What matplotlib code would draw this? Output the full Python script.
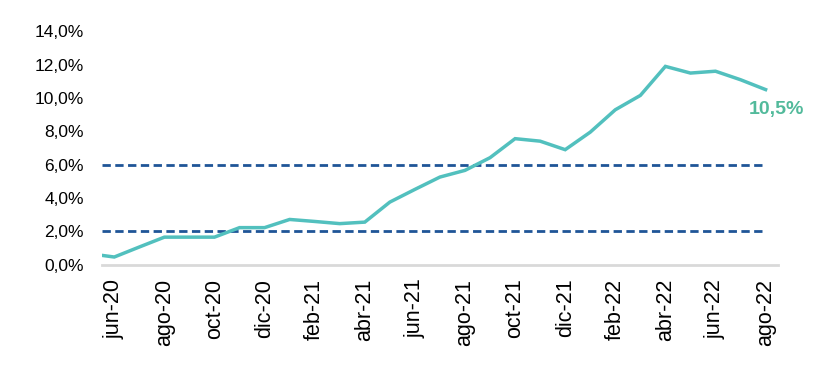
import matplotlib.pyplot as plt

plt.rcParams['font.family'] = ['Liberation Sans', 'DejaVu Sans']

# Monthly inflation, may-20 .. ago-22 (may-20 is only partly visible at the left edge)
months = ['may-20', 'jun-20', 'jul-20', 'ago-20', 'sep-20', 'oct-20', 'nov-20', 'dic-20',
          'ene-21', 'feb-21', 'mar-21', 'abr-21', 'may-21', 'jun-21', 'jul-21', 'ago-21',
          'sep-21', 'oct-21', 'nov-21', 'dic-21', 'ene-22', 'feb-22', 'mar-22', 'abr-22',
          'may-22', 'jun-22', 'jul-22', 'ago-22']
values = [0.67, 0.47, 1.07, 1.66, 1.66, 1.66, 2.23, 2.23,
          2.72, 2.60, 2.47, 2.56, 3.76, 4.52, 5.26, 5.66,
          6.42, 7.56, 7.41, 6.90, 7.95, 9.29, 10.15, 11.89,
          11.49, 11.60, 11.09, 10.5]
target_low = 2.0
target_high = 6.0

x = list(range(-1, len(months) - 1))  # jun-20 sits at 0

fig = plt.figure(figsize=(8.34, 3.80), dpi=100)
ax = fig.add_axes([0.122, 0.303, 0.811, 0.615])

ax.hlines([target_low, target_high], -0.5, x[-1], color='#1F5597', lw=2, ls=(0, (3, 1.6)))
ax.plot(x, values, color='#52C0BE', lw=2.5, solid_joinstyle='miter')

ax.annotate(f"{values[-1]:.1f}%".replace('.', ','), (x[-1], values[-1]),
            xytext=(8, -14), textcoords='offset points', ha='center', va='center',
            color='#52BA9B', fontsize=14, fontweight='bold')

ax.set_xlim(-0.5, 26.5)
ax.set_ylim(0, 14)

ticks = x[1::2]
ax.set_xticks(ticks)
ax.set_xticklabels(months[1::2], rotation=90, fontsize=15.5)
ax.set_yticks(range(0, 15, 2))
ax.set_yticklabels([f"{v},0%" for v in range(0, 15, 2)], fontsize=12.5)
ax.tick_params(axis='both', length=0)
ax.tick_params(axis='y', pad=13)
ax.tick_params(axis='x', pad=10)

for side in ['top', 'right', 'left']:
    ax.spines[side].set_visible(False)
ax.spines['bottom'].set_color('#D9D9D9')
ax.spines['bottom'].set_linewidth(2)

fig.savefig('out.png', dpi=100)
